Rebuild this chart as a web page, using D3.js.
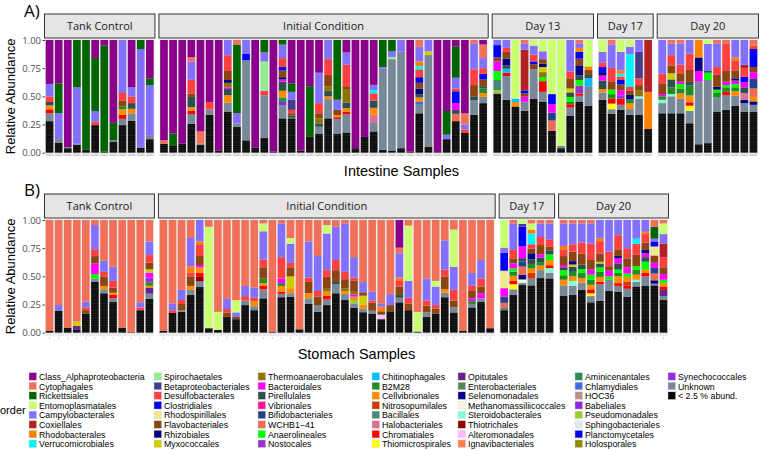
<!DOCTYPE html>
<html><head><meta charset="utf-8">
<script src="https://cdn.jsdelivr.net/npm/d3@7"></script>
<style>body{margin:0;background:#fff}text{font-family:"Liberation Sans",Arial,sans-serif}</style>
</head><body><svg id="c" width="760" height="450"></svg>
<script>
// ---- legend / orders (stack order top -> bottom follows this list) ----
const orderKeys = ["Alpha","Cyto","Rick","Ento","Campy","Coxi","Rhodob","Verru",
  "Spiro","Betap","Desulfo","Clostr","Rhodosp","Flavo","Rhizo","Myxo",
  "Thermo","Bacter","Pirell","Vibrio","Bifido","WCHB","Anaero","Nostoc",
  "Chitin","B2M28","Cellvib","Nitroso","Bacill","Halob","Chrom","Thiomi",
  "Opitut","Entero","Seleno","Methan","Steroid","Thiotr","Altero","Ignavi",
  "Amini","Chlamy","HOC36","Babel","Pseudo","Sphingo","Plancto","Holosp",
  "Synech","Unknown","Low"];
const orderNames = ["Class_Alphaproteobacteria","Cytophagales","Rickettsiales","Entomoplasmatales","Campylobacterales","Coxiellales","Rhodobacterales","Verrucomicrobiales",
  "Spirochaetales","Betaproteobacteriales","Desulfobacterales","Clostridiales","Rhodospirillales","Flavobacteriales","Rhizobiales","Myxococcales",
  "Thermoanaerobaculales","Bacteroidales","Pirellulales","Vibrionales","Bifidobacteriales","WCHB1\u221241","Anaerolineales","Nostocales",
  "Chitinophagales","B2M28","Cellvibrionales","Nitrosopumilales","Bacillales","Halobacteriales","Chromatiales","Thiomicrospirales",
  "Opitutales","Enterobacteriales","Selenomonadales","Methanomassiliicoccales","Steroidobacterales","Thiotrichales","Alteromonadales","Ignavibacteriales",
  "Aminicenantales","Chlamydiales","HOC36","Babeliales","Pseudomonadales","Sphingobacteriales","Planctomycetales","Holosporales",
  "Synechococcales","Unknown","< 2.5 % abund."];
const orderColors = ["#8B008B","#F07058","#006400","#CAFF70","#8470FF","#B22222","#FF7F00","#00F5FF",
  "#90EE90","#483D8B","#FF4040","#0000FF","#F0E68C","#8B4513","#000080","#CDCD00",
  "#8B7500","#FF00FF","#2F4F4F","#FF1493","#27408B","#EE6A50","#00FF00","#9932CC",
  "#00BFFF","#228B22","#FF8C00","#CD3700","#458B74","#DB7093","#FF0000","#FFFF00",
  "#68228B","#548B54","#00008B","#F5F5DC","#7FFFD4","#8B0000","#FFBBFF","#FF7F50",
  "#2E8B57","#4169E1","#BC8F8F","#8A2BE2","#9ACD32","#E6E6FA","#0000EE","#8B8B00",
  "#912CEE","#778899","#000000"];

// ---- A) Intestine ----
const intTank = [
 {Alpha:.39,Campy:.11,Desulfo:.05,Pirell:.03,Cellvib:.035,Chrom:.035,Unknown:.07,Low:.28},
 {Alpha:.385,Rick:.265,Campy:.22,Unknown:.04,Low:.09},
 {Alpha:.95,Unknown:.01,Low:.04},
 {Rick:.42,Campy:.50,Unknown:.01,Low:.07},
 {Rick:.97,Low:.03},
 {Alpha:.16,Rick:.47,Campy:.095,Desulfo:.03,Low:.245},
 {Alpha:.05,Rick:.94,Low:.01},
 {Alpha:.735,Rick:.155,Unknown:.01,Low:.10},
 {Campy:.47,Desulfo:.07,Flavo:.05,B2M28:.025,Cellvib:.05,Chrom:.035,Unknown:.055,Low:.245},
 {Alpha:.42,Campy:.08,Desulfo:.06,Pirell:.05,Cellvib:.04,Unknown:.065,Low:.285},
 {Rick:.08,Campy:.875,Low:.045},
 {Alpha:.34,Rick:.06,Campy:.45,Unknown:.03,Low:.12}];
const intInitial = [
 {Alpha:.89,Cyto:.03,Low:.08},
 {Alpha:.83,Rick:.11,Low:.06},
 {Alpha:.92,Low:.08},
 {Alpha:.15,Cyto:.04,Campy:.16,Desulfo:.12,Flavo:.03,Pirell:.09,Cellvib:.03,Chrom:.03,Unknown:.085,Low:.255},
 {Alpha:.81,Cyto:.11,Unknown:.01,Low:.07},
 {Alpha:.55,Desulfo:.065,Unknown:.05,Low:.335},
 {Alpha:.98,Low:.02},
 {Campy:.135,Desulfo:.14,Flavo:.08,Rhizo:.025,Thermo:.04,Bacter:.015,Pirell:.055,Cellvib:.065,Unknown:.08,Low:.365},
 {Cyto:.04,Rick:.61,Campy:.09,Unknown:.03,Low:.23},
 {Campy:.12,Clostr:.06,Unknown:.71,Low:.11},
 {Alpha:.955,Low:.045},
 {Rick:.11,Campy:.08,Spiro:.26,Desulfo:.04,Unknown:.38,Low:.13},
 {Alpha:.99,Low:.01},
 {Rick:.04,Campy:.12,Desulfo:.08,Clostr:.03,Flavo:.06,Rhizo:.02,Bacter:.02,Pirell:.08,Cellvib:.06,Amini:.04,Babel:.03,Unknown:.115,Low:.305},
 {Alpha:.385,Rick:.075,Campy:.07,Betap:.09,Desulfo:.03,Flavo:.02,Pirell:.02,Unknown:.005,Low:.305},
 {Alpha:.98,Low:.02},
 {Alpha:.41,Rick:.45,Low:.14},
 {Alpha:.29,Campy:.27,Desulfo:.09,Flavo:.045,Thermo:.045,Pirell:.03,Unknown:.06,Low:.17},
 {Campy:.17,Desulfo:.14,Flavo:.10,Thermo:.04,Pirell:.05,Cellvib:.025,Unknown:.17,Low:.305},
 {Rick:.53,Campy:.09,Flavo:.045,Cellvib:.02,Chrom:.015,Unknown:.13,Low:.17},
 {Alpha:.11,Campy:.11,Desulfo:.19,Flavo:.025,Thermo:.12,Pirell:.05,Cellvib:.03,Chrom:.025,Unknown:.16,Low:.18},
 {Alpha:.96,Low:.04},
 {Alpha:.86,Low:.14},
 {Alpha:.40,Campy:.045,Verru:.03,Desulfo:.065,Pirell:.065,Cellvib:.06,Halob:.075,Unknown:.075,Low:.19},
 {Rick:.24,Campy:.015,Unknown:.72,Low:.025},
 {Rick:.10,Campy:.05,Spiro:.02,Unknown:.81,Low:.02},
 {Campy:.10,Unknown:.86,Low:.04},
 {Alpha:.99,Low:.01},
 {Cyto:.06,Campy:.13,Rhodob:.04,Verru:.03,Desulfo:.07,Clostr:.05,Flavo:.05,Rhizo:.05,Pirell:.03,Cellvib:.04,Chlamy:.025,Unknown:.075,Low:.35},
 {Campy:.10,Myxo:.03,Unknown:.815,Low:.055},
 {Alpha:.995,Low:.005},
 {Alpha:.63,Rick:.21,Campy:.04,Low:.12},
 {Alpha:.06,Rick:.275,Campy:.095,Desulfo:.025,Clostr:.105,Bacter:.06,Pirell:.035,WCHB:.065,Low:.28},
 {Alpha:.65,Cyto:.10,Campy:.045,Desulfo:.03,Low:.175},
 {Cyto:.03,Campy:.23,Desulfo:.14,Flavo:.10,Pirell:.035,Unknown:.13,Low:.335},
 {Alpha:.04,Cyto:.12,Campy:.09,Desulfo:.05,Clostr:.05,Flavo:.06,Pirell:.02,B2M28:.04,Cellvib:.035,Unknown:.055,Low:.44}];
const intDay13 = [
 {Campy:.045,Clostr:.11,Flavo:.035,Bacter:.085,Anaero:.08,Bacill:.09,Pseudo:.03,Low:.525},
 {Campy:.07,Desulfo:.035,Flavo:.06,Rhizo:.06,Chitin:.035,Pirell:.03,Chrom:.03,Unknown:.21,Low:.47},
 {Ento:.52,Chitin:.03,Cellvib:.04,Low:.41},
 {Cyto:.03,Campy:.055,Coxi:.36,Clostr:.025,Flavo:.03,Bacter:.045,Unknown:.08,Low:.37},
 {Ento:.05,Campy:.08,Desulfo:.06,Clostr:.025,Flavo:.045,Unknown:.26,Low:.48},
 {Ento:.10,Campy:.07,Rhizo:.03,Flavo:.04,Myxo:.045,Thermo:.045,Anaero:.035,Chrom:.095,Unknown:.09,Low:.45},
 {Ento:.48,Clostr:.09,Bacter:.075,Bifido:.07,WCHB:.09,Low:.195},
 {Ento:.94,Unknown:.02,Low:.04},
 {Campy:.28,Desulfo:.06,Flavo:.09,Myxo:.035,Pirell:.04,Anaero:.045,B2M28:.02,Chrom:.03,Unknown:.07,Low:.33},
 {Cyto:.03,Campy:.04,Rhodob:.035,Clostr:.06,Flavo:.06,Rhizo:.09,Pirell:.04,Nostoc:.07,Anaero:.05,Chrom:.02,Unknown:.055,Low:.45},
 {Ento:.235,Rhodob:.03,Flavo:.045,Pirell:.03,Chitin:.07,Unknown:.175,Low:.415}];
const intDay17 = [
 {Ento:.105,Campy:.095,Desulfo:.04,Clostr:.045,Rhizo:.03,Bacter:.045,Pirell:.075,Cellvib:.03,Unknown:.065,Low:.47},
 {Cyto:.04,Campy:.21,Desulfo:.12,Flavo:.075,Anaero:.04,B2M28:.04,Chrom:.045,Thiomi:.05,Unknown:.04,Low:.35},
 {Ento:.105,Campy:.165,Rhodob:.03,Verru:.025,Desulfo:.03,Clostr:.04,Flavo:.05,Bacter:.045,Nostoc:.03,Chrom:.055,Unknown:.045,Low:.38},
 {Ento:.06,Campy:.065,Verru:.29,Desulfo:.035,Flavo:.035,Rhizo:.04,B2M28:.035,Cellvib:.05,Unknown:.05,Low:.335},
 {Campy:.105,Betap:.235,Desulfo:.06,Flavo:.05,Thermo:.05,Steroid:.02,Unknown:.145,Low:.335},
 {Coxi:.46,Rhodob:.33,Low:.21}];
const intDay20 = [
 {Campy:.30,Desulfo:.09,Flavo:.09,Bacter:.02,B2M28:.03,Steroid:.03,Unknown:.09,Low:.35},
 {Cyto:.03,Campy:.105,Desulfo:.09,Flavo:.07,Myxo:.055,Pirell:.07,B2M28:.06,Steroid:.02,Unknown:.15,Low:.35},
 {Cyto:.03,Campy:.19,Desulfo:.075,Flavo:.075,Bacter:.02,Anaero:.04,B2M28:.045,Cellvib:.045,Unknown:.13,Low:.35},
 {Campy:.12,Desulfo:.145,Flavo:.105,Pirell:.03,B2M28:.09,Cellvib:.06,Chrom:.03,Thiomi:.045,Unknown:.11,Low:.26},
 {Rhodob:.155,Rhizo:.12,Bacter:.095,Unknown:.555,Low:.075},
 {Ento:.035,Campy:.24,Anaero:.065,Pirell:.015,Unknown:.56,Low:.085},
 {Cyto:.03,Campy:.21,Desulfo:.07,Flavo:.105,Rhizo:.025,Anaero:.03,B2M28:.04,Unknown:.125,Low:.365},
 {Cyto:.03,Desulfo:.245,Flavo:.095,Bacter:.03,Anaero:.02,B2M28:.04,Chrom:.03,Unknown:.13,Low:.38},
 {Campy:.155,Rhodob:.025,Desulfo:.09,Flavo:.07,Rhizo:.02,Bacter:.03,Anaero:.03,B2M28:.035,Cellvib:.04,Unknown:.09,Low:.415},
 {Campy:.22,Coxi:.03,Desulfo:.075,Clostr:.05,Pirell:.05,Bacter:.045,Halob:.06,Seleno:.03,Unknown:.075,Low:.365},
 {Cyto:.05,Desulfo:.03,Clostr:.16,Flavo:.045,Bacter:.06,Bifido:.085,WCHB:.075,Cellvib:.04,Seleno:.03,Unknown:.06,Low:.365}];

// ---- B) Stomach ----
const stoTank = [
 {Cyto:.985,Low:.015},
 {Cyto:.755,Campy:.05,Low:.195},
 {Cyto:.955,Low:.045},
 {Cyto:.90,Myxo:.04,Opitut:.035,Low:.025},
 {Cyto:.725,Campy:.05,Desulfo:.025,Flavo:.03,Low:.17},
 {Cyto:.045,Campy:.215,Desulfo:.06,Flavo:.065,Bacter:.095,Anaero:.04,Unknown:.03,Low:.45},
 {Cyto:.36,Campy:.10,Desulfo:.04,Flavo:.085,Cellvib:.03,Unknown:.035,Low:.35},
 {Cyto:.415,Campy:.125,Desulfo:.06,Flavo:.045,Cellvib:.02,Chrom:.03,Unknown:.03,Low:.275},
 {Cyto:.955,Low:.045},
 {Cyto:.995,Low:.005},
 {Cyto:.73,Campy:.045,Desulfo:.025,Low:.20},
 {Cyto:.19,Campy:.12,Desulfo:.065,Flavo:.06,Myxo:.03,Bacter:.045,Nostoc:.04,B2M28:.03,Cellvib:.02,Opitut:.05,Unknown:.045,Low:.30}];
const stoInitial = [
 {Cyto:.985,Low:.015},
 {Cyto:.74,Campy:.06,Desulfo:.025,Low:.175},
 {Cyto:.62,Campy:.09,Desulfo:.035,Flavo:.055,Unknown:.015,Low:.185},
 {Cyto:.16,Campy:.25,Rhodob:.055,Desulfo:.035,Flavo:.085,Cellvib:.035,Unknown:.045,Low:.335},
 {Campy:.19,Rhodob:.025,Desulfo:.105,Flavo:.08,Bacter:.02,Cellvib:.05,Chrom:.035,Thiotr:.04,Unknown:.05,Low:.405},
 {Cyto:.06,Ento:.90,Low:.04},
 {Cyto:.815,Ento:.16,Low:.025},
 {Cyto:.70,Campy:.09,Desulfo:.03,Flavo:.04,Low:.14},
 {Cyto:.71,Ento:.11,Campy:.04,Flavo:.02,Low:.12},
 {Cyto:.585,Campy:.09,Desulfo:.04,Unknown:.04,Low:.245},
 {Cyto:.60,Campy:.09,Desulfo:.03,Cellvib:.045,Unknown:.035,Low:.20},
 {Cyto:.03,Ento:.07,Campy:.25,Desulfo:.07,Flavo:.10,B2M28:.04,Cellvib:.025,Chrom:.03,Unknown:.08,Low:.305},
 {Cyto:.99,Low:.01},
 {Cyto:.03,Campy:.30,Desulfo:.19,Bacter:.04,B2M28:.025,Cellvib:.05,Chrom:.02,Unknown:.03,Low:.315},
 {Cyto:.16,Ento:.05,Campy:.17,Desulfo:.04,Flavo:.08,Myxo:.105,Cellvib:.045,Unknown:.03,Low:.32},
 {Cyto:.97,Low:.03},
 {Cyto:.19,Campy:.32,Desulfo:.04,Flavo:.10,Cellvib:.045,Unknown:.05,Low:.255},
 {Cyto:.32,Campy:.31,Desulfo:.05,Flavo:.075,Unknown:.06,Low:.185},
 {Cyto:.045,Ento:.075,Campy:.325,Desulfo:.06,Flavo:.105,Thermo:.025,Cellvib:.035,Chrom:.035,Unknown:.05,Low:.245},
 {Cyto:.06,Campy:.295,Desulfo:.09,Flavo:.105,Pirell:.02,Unknown:.08,Low:.35},
 {Cyto:.03,Campy:.43,Desulfo:.065,Flavo:.08,Thermo:.025,Cellvib:.025,Unknown:.055,Low:.29},
 {Cyto:.33,Campy:.18,Desulfo:.03,Flavo:.09,Thermo:.03,Bacter:.02,Cellvib:.03,Pseudo:.03,Unknown:.04,Low:.22},
 {Cyto:.545,Campy:.09,Flavo:.03,Myxo:.08,Cellvib:.035,Unknown:.03,Low:.18},
 {Cyto:.635,Campy:.08,Desulfo:.02,Flavo:.07,Unknown:.025,Low:.17},
 {Cyto:.74,Campy:.03,Rhodob:.04,Flavo:.03,Altero:.04,Low:.12},
 {Cyto:.655,Campy:.10,Flavo:.055,Low:.19},
 {Alpha:.245,Cyto:.05,Campy:.215,Rhodob:.025,Desulfo:.055,Flavo:.075,Pirell:.025,Unknown:.04,Low:.27},
 {Cyto:.05,Ento:.49,Campy:.15,Desulfo:.05,Flavo:.06,Low:.20},
 {Cyto:.815,Ento:.175,Low:.01},
 {Cyto:.52,Campy:.195,Desulfo:.045,Flavo:.06,Unknown:.04,Low:.14},
 {Cyto:.54,Ento:.05,Campy:.165,Desulfo:.03,Flavo:.045,Low:.17},
 {Cyto:.18,Campy:.26,Desulfo:.06,Flavo:.115,Cellvib:.03,Unknown:.04,Low:.315},
 {Cyto:.085,Ento:.33,Campy:.205,Desulfo:.095,Flavo:.06,Unknown:.045,Low:.18},
 {Cyto:.985,Low:.015},
 {Cyto:.47,Campy:.11,Desulfo:.05,Flavo:.065,Bacter:.025,B2M28:.025,Unknown:.03,Low:.225},
 {Cyto:.355,Campy:.165,Desulfo:.07,Flavo:.06,Bacter:.045,Unknown:.03,Low:.275},
 {Cyto:.96,Low:.04}];
const stoDay17 = [
 {Ento:.245,Campy:.045,Clostr:.16,Rhodosp:.155,Bacter:.075,Bifido:.055,WCHB:.045,Bacill:.02,Low:.20},
 {Cyto:.03,Campy:.235,Desulfo:.075,Flavo:.045,Bacter:.045,Anaero:.03,B2M28:.035,Cellvib:.045,Chrom:.03,Thiomi:.045,Unknown:.05,Low:.335},
 {Ento:.035,Betap:.025,Clostr:.175,Bacter:.105,Bifido:.045,WCHB:.075,Pirell:.03,Seleno:.04,Methan:.03,Unknown:.02,Low:.425},
 {Cyto:.03,Ento:.055,Rhodob:.035,Verru:.095,Desulfo:.04,Rhizo:.055,Flavo:.04,Pirell:.04,B2M28:.04,Cellvib:.04,Nitroso:.05,Unknown:.06,Low:.42},
 {Cyto:.03,Campy:.12,Desulfo:.07,Flavo:.08,Bacter:.03,Pirell:.04,B2M28:.03,Cellvib:.04,Unknown:.07,Low:.48},
 {Cyto:.03,Campy:.14,Desulfo:.065,Flavo:.03,Pirell:.035,Anaero:.05,Cellvib:.045,Chrom:.025,Steroid:.04,Unknown:.05,Low:.475}];
const stoDay20 = [
 {Cyto:.03,Campy:.20,Rhodob:.03,Desulfo:.06,Flavo:.08,Bacter:.02,Pirell:.025,Anaero:.045,B2M28:.04,Cellvib:.05,Unknown:.09,Low:.33},
 {Cyto:.03,Campy:.185,Desulfo:.065,Flavo:.085,Rhizo:.03,Myxo:.02,Pirell:.045,B2M28:.04,Cellvib:.04,Steroid:.045,Unknown:.08,Low:.335},
 {Cyto:.03,Campy:.17,Desulfo:.10,Flavo:.095,Pirell:.04,Anaero:.035,B2M28:.045,Cellvib:.04,Unknown:.065,Low:.38},
 {Cyto:.03,Campy:.18,Desulfo:.145,Flavo:.085,Bacter:.045,Anaero:.045,B2M28:.045,Cellvib:.04,Chrom:.035,Thiomi:.025,Unknown:.055,Low:.27},
 {Campy:.165,Rhodob:.025,Desulfo:.11,Flavo:.075,Myxo:.015,Pirell:.035,Anaero:.04,B2M28:.045,Cellvib:.045,Chrom:.02,Unknown:.15,Low:.285},
 {Campy:.28,Desulfo:.13,Flavo:.04,Bacter:.05,Anaero:.03,Unknown:.10,Low:.37},
 {Campy:.135,Desulfo:.125,Flavo:.06,Rhizo:.02,Bacter:.045,Pirell:.055,Anaero:.03,B2M28:.03,Cellvib:.06,Chrom:.025,Unknown:.05,Low:.365},
 {Campy:.25,Desulfo:.09,Flavo:.08,Bacter:.055,Anaero:.03,Cellvib:.045,Chrom:.03,Nitroso:.03,Unknown:.07,Low:.32},
 {Campy:.165,Verru:.045,Desulfo:.10,Flavo:.10,Anaero:.03,B2M28:.045,Cellvib:.045,Steroid:.02,Unknown:.04,Low:.41},
 {Campy:.105,Rhodob:.02,Desulfo:.075,Flavo:.065,Rhizo:.03,Bacter:.035,Pirell:.04,Anaero:.07,Cellvib:.03,Chrom:.03,Unknown:.085,Low:.415},
 {Cyto:.06,Rick:.105,Campy:.03,Clostr:.04,Rhodosp:.08,Flavo:.065,Bacter:.045,Bifido:.05,WCHB:.06,Seleno:.03,Unknown:.015,Low:.42},
 {Cyto:.03,Ento:.095,Campy:.085,Coxi:.12,Desulfo:.09,Flavo:.06,Bacter:.05,Anaero:.03,Cellvib:.03,Chrom:.03,Opitut:.055,Unknown:.035,Low:.29}];

const yTickValues = [0, 0.25, 0.5, 0.75, 1];
const panelA = {tag:"A)", xTitle:"Intestine Samples", facets:[
  {label:"Tank Control", data:intTank},{label:"Initial Condition", data:intInitial},
  {label:"Day 13", data:intDay13},{label:"Day 17", data:intDay17},{label:"Day 20", data:intDay20}]};
const panelB = {tag:"B)", xTitle:"Stomach Samples", facets:[
  {label:"Tank Control", data:stoTank},{label:"Initial Condition", data:stoInitial},
  {label:"Day 17", data:stoDay17},{label:"Day 20", data:stoDay20}]};

// ---- drawing ----
const svg = d3.select("#c");
const defs = svg.append("defs");
const pat = defs.append("pattern").attr("id","lowpat").attr("patternUnits","userSpaceOnUse")
  .attr("width",8).attr("height",7.3);
pat.append("rect").attr("width",8).attr("height",7.3).attr("fill","#050505");
[[1.1,"#333",0.5],[2.6,"#222",0.6],[3.9,"#3c3c3c",0.45],[5.2,"#1c1c1c",0.7],[6.5,"#2e2e2e",0.5]]
  .forEach(([yy,c,h]) => pat.append("rect").attr("y",yy).attr("width",8).attr("height",h).attr("fill",c));

const colorOf = d3.scaleOrdinal().domain(orderKeys).range(orderColors);
const fillOf = k => k === "Low" ? "url(#lowpat)" : colorOf(k);
const stack = d3.stack().keys(orderKeys.slice().reverse())
  .value((d,k) => d[k] || 0).offset(d3.stackOffsetExpand);

function drawPanel(p, L, R, stripTop, yTop, yBot, tickStyle, tagY) {
  const gap = 5, stripH = 24;
  const total = d3.sum(p.facets, f => f.data.length);
  const step = (R - L - gap * (p.facets.length - 1)) / total;
  const y = d3.scaleLinear().domain([0,1]).range([yBot, yTop]);
  let x0 = L;
  p.facets.forEach(f => {
    const n = f.data.length, x1 = x0 + n * step;
    const g = svg.append("g");
    g.append("rect").attr("x",x0).attr("y",yTop-1).attr("width",x1-x0)
      .attr("height",yBot-yTop+4.5).attr("fill","#EBEBEB");
    g.append("rect").attr("x",x0-0.5).attr("y",stripTop).attr("width",x1-x0+1)
      .attr("height",stripH).attr("fill","#E5E5E5").attr("stroke","#333").attr("stroke-width",1);
    g.append("text").attr("x",(x0+x1)/2).attr("y",stripTop+stripH/2+4)
      .attr("text-anchor","middle").style("font-family","'Open Sans',sans-serif")
      .style("font-size","11px").attr("fill","#1A1A1A").text(f.label);
    const xb = d3.scaleBand().domain(d3.range(n)).range([x0,x1]).paddingInner(0.16).paddingOuter(0.08);
    const series = stack(f.data);
    series.forEach(s => {
      g.append("g").selectAll("rect").data(s.filter(d => d[1]-d[0] > 0)).join("rect")
        .attr("x",d => xb(f.data.indexOf(d.data))).attr("width",xb.bandwidth())
        .attr("y",d => y(d[1])).attr("height",d => y(d[0]) - y(d[1]))
        .attr("fill",fillOf(s.key));
    });
    if (tickStyle === "dash") {
      g.append("g").selectAll("rect").data(d3.range(n)).join("rect")
        .attr("x",i => xb(i)+0.5).attr("width",xb.bandwidth()-1)
        .attr("y",yBot+1.6).attr("height",1.6).attr("fill","#D2D2D2");
    } else {
      g.append("g").selectAll("line").data(d3.range(n)).join("line")
        .attr("x1",i => xb(i)+xb.bandwidth()/2).attr("x2",i => xb(i)+xb.bandwidth()/2)
        .attr("y1",yBot+4.5).attr("y2",yBot+6.5).attr("stroke","#BBB").attr("stroke-width",0.8);
    }
    x0 = x1 + gap;
  });
  const ax = svg.append("g").attr("transform",`translate(${L},0)`)
    .call(d3.axisLeft(y).tickValues(yTickValues).tickFormat(d3.format(".2f")).tickSize(2.5).tickPadding(1.5));
  ax.select(".domain").remove();
  ax.selectAll("line").attr("stroke","#444");
  ax.selectAll("text").attr("fill","#4D4D4D").style("font-family","'Open Sans',sans-serif").style("font-size","9.5px");
  svg.append("text").attr("transform",`translate(15,${(yTop+yBot)/2}) rotate(-90)`)
    .attr("text-anchor","middle").style("font-size","13px").attr("fill","#000").text("Relative Abundance");
  svg.append("text").attr("x",(L+R)/2).attr("y",yBot + (tickStyle === "dash" ? 23 : 26))
    .attr("text-anchor","middle").style("font-size","14.5px").attr("fill","#000").text(p.xTitle);
  svg.append("text").attr("x",24).attr("y",tagY).style("font-family","'Open Sans',sans-serif")
    .style("font-size","17px").attr("fill","#000").text(p.tag);
}

drawPanel(panelA, 45, 758, 14, 40, 152.7, "dash", 17);
drawPanel(panelB, 45, 668, 194, 220, 332.7, "tick", 196);

// ---- legend ----
const colX = [29,154,258,372,458,575,668];
const leg = svg.append("g");
leg.append("text").attr("x",0).attr("y",414).style("font-size","11px").attr("fill","#000").text("order");
orderKeys.forEach((k,i) => {
  const c = Math.floor(i/8), r = i % 8;
  const x = colX[c], yy = 372.6 + r*9.62;
  leg.append("rect").attr("x",x).attr("y",yy).attr("width",7.6).attr("height",7.6)
    .attr("fill",colorOf(k)).attr("stroke","#ddd").attr("stroke-width",0.4);
  leg.append("text").attr("x",x+10).attr("y",yy+7.3).style("font-size","8.8px")
    .attr("fill","#000").text(orderNames[i]);
});
</script></body></html>
